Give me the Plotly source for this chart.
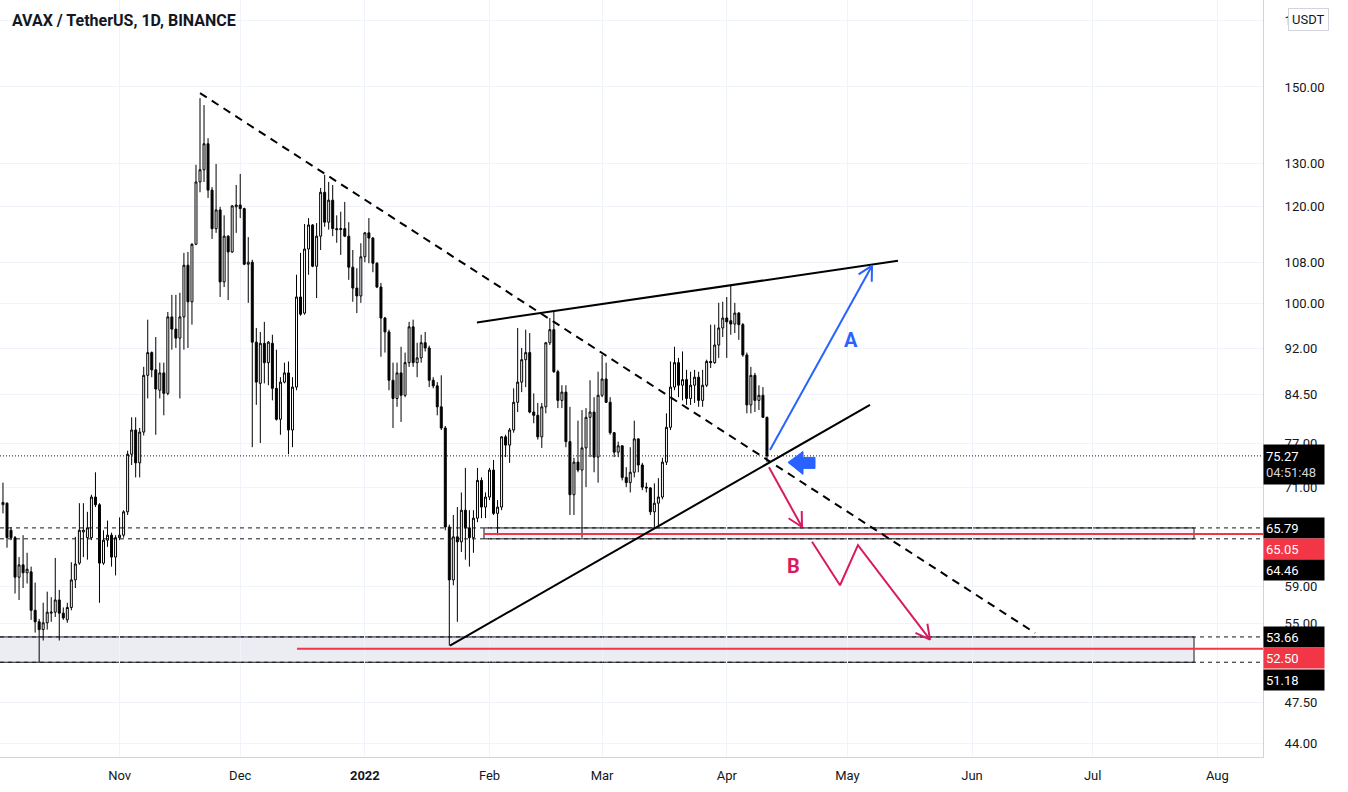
import numpy as np
import pandas as pd
import plotly.graph_objects as go

# ---------------- data ----------------
start_date = "2021-10-03"
n_days = 191
dates = pd.date_range(start_date, periods=n_days, freq="D")

opens = [68.7, 68.9, 65.5, 64.6, 60.0, 61.4, 60.5, 60.6, 56.4, 55.2,
         54.4, 55.1, 56.1, 56.2, 57.5, 56.1, 55.4, 56.7, 59.7, 61.6,
         65.3, 64.6, 64.6, 69.7, 68.7, 61.6, 64.3, 64.9, 62.3, 64.6,
         64.9, 67.8, 75.5, 79.0, 74.3, 78.7, 87.5, 91.3, 88.4, 85.1,
         87.9, 84.6, 97.6, 95.4, 93.8, 97.6, 107.5, 100.4, 111.8, 125.6,
         128.5, 134.9, 123.7, 115.1, 119.2, 104.2, 113.5, 110.2, 119.9, 120.3,
         119.5, 107.7, 108.1, 93.1, 86.2, 92.9, 89.6, 92.9, 85.4, 80.6,
         86.4, 87.9, 79.0, 85.6, 101.3, 98.3, 110.8, 115.9, 107.3, 113.5,
         123.2, 116.5, 121.4, 115.1, 114.9, 115.1, 113.5, 107.1, 103.0, 101.5,
         109.2, 114.2, 113.1, 107.9, 103.2, 97.4, 94.9, 86.7, 83.8, 87.9,
         84.3, 89.6, 95.8, 89.6, 90.4, 93.0, 92.1, 86.7, 85.8, 82.5,
         79.3, 65.9, 59.7, 64.7, 64.1, 68.0, 65.8, 64.6, 67.0, 71.9,
         68.4, 69.7, 73.3, 67.6, 68.4, 78.0, 76.8, 79.0, 83.2, 86.4,
         90.1, 91.3, 81.7, 81.2, 78.0, 82.5, 93.0, 95.3, 88.1, 83.5,
         84.8, 77.3, 70.0, 74.4, 73.3, 76.4, 80.9, 81.7, 75.1, 84.3,
         86.9, 83.2, 78.6, 75.8, 76.7, 72.3, 71.6, 73.0, 77.7, 74.0,
         71.0, 70.9, 67.8, 68.9, 69.7, 74.4, 79.4, 85.6, 89.6, 85.9,
         86.8, 83.8, 85.9, 87.2, 83.5, 85.9, 89.8, 89.6, 92.6, 95.6,
         97.4, 96.9, 96.3, 98.3, 96.2, 90.9, 82.8, 87.5, 83.5, 84.3,
         80.9]
highs = [71.6, 69.0, 65.9, 64.8, 62.3, 64.9, 62.8, 61.2, 59.4, 55.5,
         57.2, 58.4, 57.8, 62.2, 58.6, 56.7, 57.2, 61.7, 64.7, 68.9,
         68.9, 67.8, 70.0, 73.0, 68.9, 65.5, 66.7, 65.2, 64.9, 67.1,
         68.0, 76.0, 80.9, 80.9, 79.3, 88.9, 97.1, 91.5, 94.0, 89.6,
         89.6, 98.5, 101.7, 101.7, 102.1, 110.0, 110.2, 112.0, 129.7, 146.9,
         145.0, 136.3, 124.4, 129.9, 119.9, 118.0, 113.7, 120.3, 124.9, 127.5,
         119.7, 113.3, 108.6, 95.6, 94.9, 96.7, 93.3, 94.4, 91.8, 87.2,
         89.6, 89.8, 87.2, 105.6, 110.0, 116.1, 117.4, 116.1, 116.3, 124.2,
         127.3, 125.6, 124.9, 118.0, 118.8, 121.0, 116.5, 110.6, 106.9, 112.0,
         114.4, 117.4, 113.3, 108.1, 104.0, 97.6, 95.3, 89.6, 89.6, 92.3,
         91.3, 96.7, 97.1, 93.0, 94.4, 94.9, 92.5, 87.2, 86.4, 87.5,
         79.6, 66.2, 67.4, 68.4, 70.3, 73.6, 68.0, 68.0, 73.6, 72.3,
         70.3, 73.6, 74.7, 69.3, 78.1, 78.3, 79.3, 85.4, 95.6, 92.1,
         95.3, 94.7, 84.6, 83.1, 83.1, 93.1, 97.4, 98.5, 88.4, 85.9,
         85.9, 82.5, 75.0, 80.4, 82.0, 82.3, 86.7, 84.0, 88.1, 90.9,
         89.6, 84.0, 78.7, 77.3, 76.8, 73.7, 76.5, 80.4, 77.8, 74.3,
         71.6, 71.0, 71.5, 72.2, 75.0, 81.5, 89.8, 92.3, 90.4, 91.5,
         88.4, 88.1, 88.4, 88.1, 88.4, 90.1, 96.2, 96.2, 100.2, 100.4,
         101.3, 103.6, 100.2, 98.5, 96.5, 91.3, 88.9, 87.9, 85.9, 85.6,
         81.0]
lows = [67.6, 63.4, 64.3, 58.2, 57.5, 58.8, 59.3, 55.4, 54.1, 51.18,
        53.3, 54.4, 55.2, 55.7, 53.3, 55.4, 55.1, 56.4, 58.8, 61.4,
        62.3, 62.0, 64.3, 68.4, 57.2, 61.4, 63.5, 61.2, 60.2, 64.3,
        64.6, 67.4, 74.0, 72.3, 72.3, 78.2, 83.8, 87.2, 78.3, 83.8,
        81.2, 84.3, 91.8, 92.1, 83.8, 91.8, 92.1, 96.2, 111.6, 123.2,
        125.6, 121.9, 112.9, 114.2, 101.3, 103.2, 100.7, 110.0, 114.2, 117.4,
        107.5, 100.2, 76.5, 82.8, 77.1, 86.2, 85.9, 83.5, 80.4, 78.3,
        86.2, 75.5, 76.5, 85.1, 97.8, 98.0, 105.6, 107.1, 101.1, 110.6,
        115.5, 114.9, 113.5, 112.1, 109.6, 113.3, 104.6, 100.4, 98.3, 100.2,
        108.1, 107.9, 106.1, 103.0, 90.6, 91.3, 85.1, 79.3, 82.5, 80.2,
        84.0, 88.9, 88.9, 87.2, 89.6, 91.5, 85.6, 85.4, 81.2, 79.0,
        65.5, 52.8, 59.1, 55.2, 62.9, 62.0, 61.2, 62.8, 66.5, 67.0,
        67.0, 69.3, 67.4, 64.9, 68.0, 75.1, 74.3, 78.6, 81.7, 84.8,
        85.6, 81.5, 80.0, 77.6, 76.4, 81.5, 92.6, 87.9, 82.3, 82.3,
        76.5, 67.4, 67.4, 73.0, 64.6, 71.0, 75.1, 73.0, 71.6, 84.0,
        83.1, 78.3, 75.1, 75.1, 71.9, 71.0, 70.3, 72.3, 73.0, 70.6,
        70.3, 67.4, 65.7, 65.9, 69.4, 74.0, 79.0, 85.1, 84.0, 83.5,
        82.8, 82.8, 83.1, 82.5, 82.5, 85.6, 88.7, 89.4, 90.4, 94.0,
        90.4, 94.4, 94.7, 93.5, 90.6, 81.5, 81.5, 81.7, 82.0, 80.8,
        74.4]
closes = [69.0, 64.6, 64.6, 60.0, 61.4, 60.5, 60.9, 56.4, 55.2, 54.4,
          55.1, 56.2, 56.2, 57.5, 56.1, 55.6, 56.7, 59.7, 61.5, 65.5,
          65.5, 65.8, 69.7, 68.7, 61.6, 64.3, 64.9, 62.3, 64.6, 64.9,
          67.8, 75.5, 79.0, 74.3, 78.7, 87.5, 91.3, 88.4, 85.3, 87.9,
          84.6, 97.6, 95.4, 93.8, 97.6, 107.5, 100.4, 111.8, 125.6, 128.5,
          134.9, 123.7, 115.1, 119.2, 104.2, 113.5, 110.2, 120.1, 120.3, 119.5,
          107.7, 108.1, 93.1, 86.4, 92.9, 89.6, 93.1, 85.4, 80.6, 86.4,
          87.9, 79.0, 85.6, 101.3, 98.1, 110.8, 115.9, 107.3, 113.5, 123.2,
          116.5, 121.4, 115.1, 114.9, 115.1, 113.5, 107.1, 103.0, 101.5, 109.2,
          114.2, 113.1, 107.9, 103.2, 97.4, 94.9, 86.7, 83.8, 87.9, 84.3,
          89.6, 95.8, 89.6, 90.4, 93.0, 92.1, 86.7, 85.8, 82.5, 79.3,
          65.9, 59.7, 64.7, 64.1, 68.0, 65.8, 64.6, 67.0, 71.9, 68.4,
          69.7, 73.3, 67.6, 68.4, 78.0, 76.8, 79.0, 83.2, 86.4, 90.1,
          91.3, 81.7, 81.2, 78.0, 82.5, 93.0, 95.3, 88.1, 83.5, 84.8,
          77.3, 70.0, 74.4, 73.3, 76.4, 80.9, 81.7, 75.1, 84.3, 86.9,
          83.2, 78.6, 75.8, 76.7, 72.3, 71.6, 73.0, 77.7, 74.0, 71.0,
          70.9, 67.8, 68.9, 69.7, 74.4, 79.4, 85.6, 89.6, 85.9, 86.8,
          83.8, 85.9, 87.2, 83.5, 85.9, 89.8, 89.6, 92.6, 95.6, 97.4,
          96.7, 96.3, 98.3, 96.2, 90.9, 82.8, 87.5, 83.5, 84.3, 80.9,
          75.27]

month_ticks = ["2021-11-01", "2021-12-01", "2022-01-01", "2022-02-01", "2022-03-01",
               "2022-04-01", "2022-05-01", "2022-06-01", "2022-07-01", "2022-08-01"]
month_labels = ["Nov", "Dec", "<b>2022</b>", "Feb", "Mar", "Apr", "May", "Jun", "Jul", "Aug"]
price_ticks = [44, 47.5, 55, 59, 71, 77, 84.5, 92, 100, 108, 120, 130, 150, 170]
# the 170.00 label is hidden behind the currency badge except for its first digit
price_labels = ["44.00", "47.50", "55.00", "59.00", "71.00", "77.00", "84.50", "92.00",
                "100.00", "108.00", "120.00", "130.00", "150.00", "1"]

last_price = 75.27
countdown = "04:51:48"
zone_high = [65.79, 64.46]
zone_low = [53.66, 51.18]
red_levels = [65.05, 52.50]

# drawing anchors (date, price)
trend_down = [("2021-11-21 00:00", 148.3), ("2022-06-16 16:00", 54.06)]
wedge_top = [("2022-01-28 21:00", 96.6), ("2022-05-13 14:00", 108.4)]
wedge_bottom = [("2022-01-22 04:00", 52.8), ("2022-05-06 15:00", 82.8)]
path_a = [("2022-04-11 18:00", 76.1), ("2022-05-07 03:00", 107.4)]
path_b1 = [("2022-04-11 12:00", 73.7), ("2022-04-19 17:00", 65.9)]
path_b2 = [("2022-04-22 05:00", 64.1), ("2022-04-29 04:00", 59.1),
           ("2022-05-03 15:00", 63.7), ("2022-05-21 13:00", 53.4)]
zone_high_start = "2022-01-30 15:00"
zone_end = "2022-07-26 05:00"
red_low_start = "2021-12-15 03:00"
icon_anchor = ("2022-04-16 05:30", 74.36)
label_a = ("2022-05-01 22:00", 93.5)
label_b = ("2022-04-17 12:00", 61.3)

# ---------------- geometry ----------------
X_START = pd.Timestamp("2021-10-02 06:14")
X_END = pd.Timestamp("2022-08-12 08:38")
Y_LOG_MIN, Y_LOG_MAX = 1.63219, 2.24670
FIG_W, FIG_H = 1348, 792
M_R, M_B = 85, 35
PW, PH = FIG_W - M_R, FIG_H - M_B

def px_of(date, price):
    t = (pd.Timestamp(date) - X_START) / (X_END - X_START)
    return t * PW, (Y_LOG_MAX - np.log10(price)) / (Y_LOG_MAX - Y_LOG_MIN) * PH

def data_of(px, py):
    d = X_START + (X_END - X_START) * (px / PW)
    p = 10 ** (Y_LOG_MAX - py / PH * (Y_LOG_MAX - Y_LOG_MIN))
    return d, p

def yp(price):
    return (np.log10(price) - Y_LOG_MIN) / (Y_LOG_MAX - Y_LOG_MIN)

def arrow_head(start, tip, length=16, ang=28):
    sx, sy = px_of(*start)
    tx, ty = px_of(*tip)
    vx, vy = sx - tx, sy - ty
    n = np.hypot(vx, vy)
    vx, vy = vx / n, vy / n
    pts = []
    for s in (1, -1):
        a = np.radians(ang) * s
        rx = vx * np.cos(a) - vy * np.sin(a)
        ry = vx * np.sin(a) + vy * np.cos(a)
        pts.append(data_of(tx + rx * length, ty + ry * length))
    return [pts[0], (pd.Timestamp(tip[0]), tip[1]), pts[1]]

BLACK = "#131722"
BLUE = "#2962ff"
PINK = "#d81b60"
RED = "#f23645"
FONT = "Roboto, Noto Sans, sans-serif"

fig = go.Figure()

# zones (below candles)
shapes = [
    dict(type="rect", xref="x", yref="paper", x0=X_START - pd.Timedelta(days=3), x1=zone_end,
         y0=yp(zone_low[1]), y1=yp(zone_low[0]), fillcolor="#ececf3",
         line=dict(color=BLACK, width=1), layer="below"),
    dict(type="rect", xref="x", yref="paper", x0=zone_high_start, x1=zone_end,
         y0=yp(zone_high[1]), y1=yp(zone_high[0]), fillcolor="rgba(240,240,247,0.7)",
         line=dict(color=BLACK, width=1), layer="below"),
]

fig.add_trace(go.Candlestick(
    x=dates, open=opens, high=highs, low=lows, close=closes,
    increasing=dict(line=dict(color="#000000", width=1), fillcolor="#ffffff"),
    decreasing=dict(line=dict(color="#000000", width=1), fillcolor="#000000"),
    whiskerwidth=0, hoverinfo="skip", showlegend=False))

def line(xs, ys, color, width, dash="solid"):
    fig.add_trace(go.Scatter(x=xs, y=ys, mode="lines", hoverinfo="skip", showlegend=False,
                             line=dict(color=color, width=width, dash=dash)))

# horizontal levels
for lvl in zone_high + zone_low:
    line([X_START, X_END], [lvl, lvl], BLACK, 1, "4px,4px")
line([zone_high_start, X_END], [red_levels[0]] * 2, RED, 2)
line([red_low_start, X_END], [red_levels[1]] * 2, RED, 2)
line([X_START, X_END], [last_price] * 2, BLACK, 1, "1px,2px")

# trend lines
line([p[0] for p in trend_down], [p[1] for p in trend_down], "#000000", 2, "8px,6px")
line([p[0] for p in wedge_top], [p[1] for p in wedge_top], "#000000", 2)
line([p[0] for p in wedge_bottom], [p[1] for p in wedge_bottom], "#000000", 2)

# scenario arrows
line([p[0] for p in path_a], [p[1] for p in path_a], BLUE, 2)
h = arrow_head(path_a[0], path_a[1])
line([p[0] for p in h], [p[1] for p in h], BLUE, 2)
line([p[0] for p in path_b1], [p[1] for p in path_b1], PINK, 2)
h = arrow_head(path_b1[0], path_b1[1])
line([p[0] for p in h], [p[1] for p in h], PINK, 2)
line([p[0] for p in path_b2], [p[1] for p in path_b2], PINK, 2)
h = arrow_head(path_b2[-2], path_b2[-1])
line([p[0] for p in h], [p[1] for p in h], PINK, 2)

# blue pointer icon
ax0, ay0 = px_of(*icon_anchor)
icon_off = [(0, 0), (15, -11), (15, -5), (27, -5), (27, 6), (15, 6), (15, 12), (0, 0)]
icon_pts = [data_of(ax0 + dx, ay0 + dy) for dx, dy in icon_off]
fig.add_trace(go.Scatter(x=[p[0] for p in icon_pts], y=[p[1] for p in icon_pts], mode="lines",
                         fill="toself", fillcolor=BLUE, line=dict(color=BLUE, width=1),
                         hoverinfo="skip", showlegend=False))

annotations = [
    dict(xref="paper", yref="paper", x=10 / PW, y=1 - 20 / PH, xanchor="left", yanchor="middle",
         text="<b>AVAX / TetherUS, 1D, BINANCE</b>", showarrow=False,
         font=dict(family=FONT, size=16, color=BLACK)),
    dict(xref="x", yref="y", x=label_a[0], y=np.log10(label_a[1]), text="<b>A</b>", showarrow=False,
         font=dict(family=FONT, size=20, color=BLUE)),
    dict(xref="x", yref="y", x=label_b[0], y=np.log10(label_b[1]), text="<b>B</b>", showarrow=False,
         font=dict(family=FONT, size=20, color=PINK)),
    dict(xref="paper", yref="paper", x=1 + 25 / PW, y=1 - 19.5 / PH, xanchor="left", yanchor="middle",
         text="USDT", showarrow=False, bgcolor="#ffffff", bordercolor="#d1d4dc", borderwidth=1,
         borderpad=3, font=dict(family=FONT, size=13, color=BLACK)),
]

def badge(value, text, color, shift, h=16):
    annotations.append(dict(xref="paper", yref="y", x=1, y=np.log10(value), xanchor="left",
                            yanchor="middle", yshift=shift, text=text, showarrow=False,
                            bgcolor=color, width=56, height=h, align="left", borderpad=2,
                            font=dict(family=FONT, size=13, color="#ffffff")))

badge(last_price, f"{last_price:.2f}<br><span style='color:#d1d4dc'>{countdown}</span>", "#000000", -9, 35)
badge(zone_high[0], f"{zone_high[0]:.2f}", "#000000", 0)
badge(red_levels[0], f"{red_levels[0]:.2f}", RED, -15)
badge(zone_high[1], f"{zone_high[1]:.2f}", "#000000", -31)
badge(zone_low[0], f"{zone_low[0]:.2f}", "#000000", 0)
badge(red_levels[1], f"{red_levels[1]:.2f}", RED, -9)
badge(zone_low[1], f"{zone_low[1]:.2f}", "#000000", -18)

fig.update_layout(
    width=FIG_W, height=FIG_H, autosize=False,
    margin=dict(l=0, r=M_R, t=0, b=M_B, pad=0),
    paper_bgcolor="#ffffff", plot_bgcolor="#ffffff", showlegend=False,
    shapes=shapes, annotations=annotations,
    xaxis=dict(type="date", range=[X_START, X_END], rangeslider=dict(visible=False),
               tickmode="array", tickvals=month_ticks, ticktext=month_labels,
               showgrid=True, gridcolor="#f0f3fa", gridwidth=1, zeroline=False,
               showline=True, linecolor="#d1d4dc", linewidth=1,
               ticks="outside", ticklen=6, tickcolor="rgba(0,0,0,0)",
               tickfont=dict(family=FONT, size=13, color=BLACK)),
    yaxis=dict(type="log", side="right", range=[Y_LOG_MIN, Y_LOG_MAX],
               tickmode="array", tickvals=price_ticks, ticktext=price_labels,
               showgrid=True, gridcolor="#f0f3fa", gridwidth=1, zeroline=False,
               showline=True, linecolor="#d1d4dc", linewidth=1,
               ticks="", ticklabelstandoff=18,
               tickfont=dict(family=FONT, size=13, color=BLACK)),
)

fig.write_html("out.html")
